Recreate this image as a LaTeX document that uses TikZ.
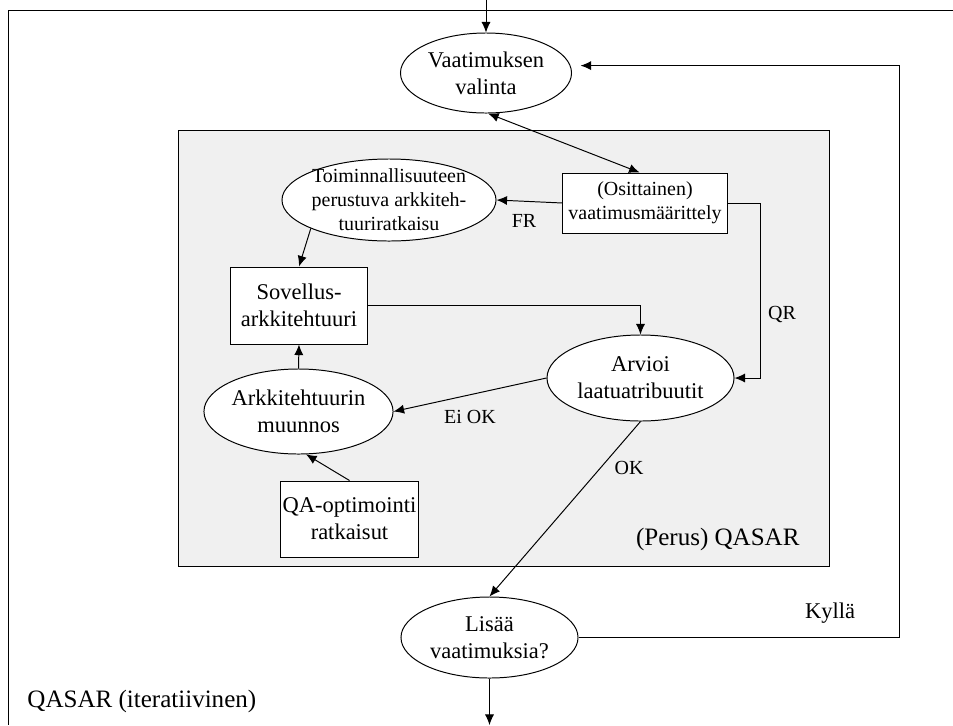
\documentclass[tikz,border=0pt]{standalone}
\usepackage{fontspec}
\setmainfont{Liberation Serif}
\usepackage{tikz}
\usetikzlibrary{shapes,arrows.meta}
\definecolor{panel}{RGB}{240,240,240}
\tikzset{txt/.style={font=\fontsize{16}{19}\selectfont}}
\tikzset{smalltxt/.style={font=\fontsize{14.2}{17}\selectfont}}
\tikzset{bigtxt/.style={font=\fontsize{17.8}{21}\selectfont}}
\tikzset{stage/.style={draw,ellipse,fill=white,inner sep=0pt,align=center,txt}}
\tikzset{task/.style={draw,rectangle,fill=white,inner sep=0pt,align=center,txt}}
\tikzset{note/.style={inner sep=0pt,anchor=base}}
\tikzset{flow/.style={-{Latex[length=7.5pt,width=6.5pt]}}}
\tikzset{twoway/.style={{Latex[length=7.5pt,width=6.5pt]}-{Latex[length=7.5pt,width=6.5pt]}}}

\begin{document}
\begin{tikzpicture}[x=0.025cm,y=-0.025cm,line width=0.7pt]
\useasboundingbox (0,0) rectangle (953,725);
\draw (953,10) -- (8,10) -- (8,725);
\draw[fill=panel] (178,130) rectangle (829,566);
% nodes
\node[stage,minimum width=4.275cm,minimum height=2cm] (valinta) at (486,73) {Vaatimuksen\\valinta};
\node[stage,minimum width=5.35cm,minimum height=2.05cm,
  label={[smalltxt,align=center]center:Toiminnallisuuteen\\perustuva arkkiteh-\\tuuriratkaisu}]
  (toim) at (389,200) {};
\node[task,smalltxt,minimum width=4.1cm,minimum height=1.5cm] (osit) at (645,203) {(Osittainen)\\vaatimusmäärittely};
\node[task,minimum width=3.4cm,minimum height=1.925cm] (sov) at (299,305.5) {Sovellus-\\arkkitehtuuri};
\node[stage,minimum width=4.675cm,minimum height=2.15cm] (arv) at (640.5,378) {Arvioi\\laatuatribuutit};
\node[stage,minimum width=4.72cm,minimum height=2.125cm] (ark) at (298.5,411.5) {Arkkitehtuurin\\muunnos};
\node[task,minimum width=3.425cm,minimum height=1.9cm] (qa) at (349.5,519) {QA-optimointi\\ratkaisut};
\node[stage,minimum width=4.425cm,minimum height=2.025cm] (lis) at (489.5,637.5) {Lisää\\vaatimuksia?};
\coordinate (start) at (486,0);
\coordinate (stop) at (489.5,725);
\coordinate (loop) at (899,637.5);
% connectors
\draw[flow] (start) -- (valinta.north);
\draw[twoway] (valinta.-87) -- (osit.100);
\draw[flow] (osit.west) -- (toim.east);
\draw[flow] (osit.east) -- ++(33,0) |- (arv.east);
\draw[flow] (toim.200) -- (sov.north);
\draw[flow] (sov.east) -| (arv.north);
\draw[flow] (ark.north) -- (sov.south);
\draw[flow] (arv.west) -- (ark.east);
\draw[flow] (qa.north) -- (ark.-80);
\draw[flow] (arv.south) -- (lis.north);
\draw[flow,shorten >=0.25cm] (lis.east) -- (loop) |- (valinta.5);
\draw[flow] (lis.south) -- (stop);
% labels
\node[note,smalltxt] (fr) at (524,227) {FR};
\node[note,smalltxt] (qr) at (782,319) {QR};
\node[note,smalltxt] (eiok) at (470,423) {Ei OK};
\node[note,smalltxt] (ok) at (629,474) {OK};
\node[note,txt] (kylla) at (830,618) {Kyllä};
\node[note,bigtxt,anchor=base east] (perus) at (800,545) {(Perus) QASAR};
\node[note,bigtxt,anchor=base west] (iter) at (27,707) {QASAR (iteratiivinen)};
\end{tikzpicture}
\end{document}
